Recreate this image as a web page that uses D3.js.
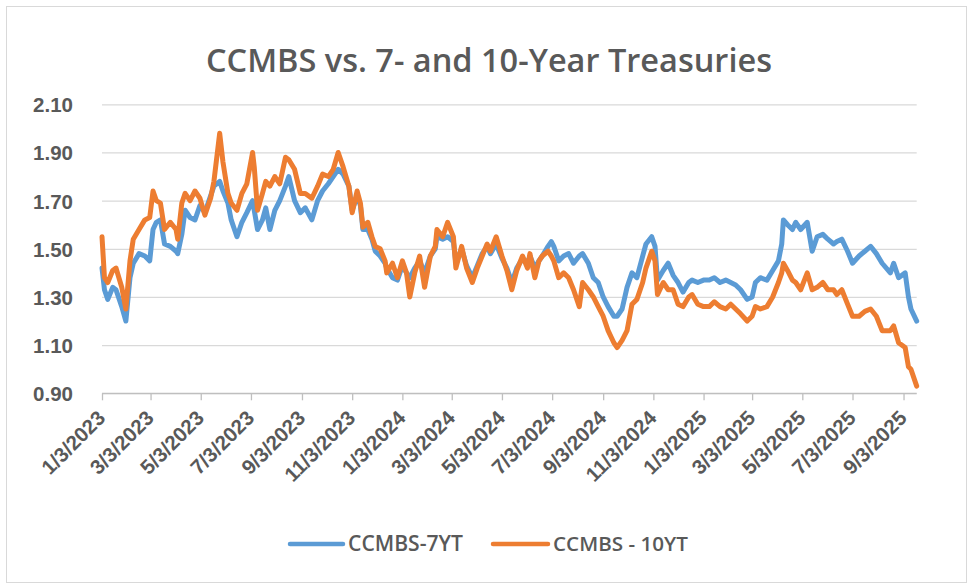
<!DOCTYPE html>
<html>
<head>
<meta charset="utf-8">
<script src="https://cdn.jsdelivr.net/npm/d3@7"></script>
<style>
  html, body { margin: 0; padding: 0; background: #fff; }
  svg { display: block; font-family: "Open Sans", "Noto Sans", sans-serif; }
  .lbl { fill: #595959; font-weight: 600; }
</style>
</head>
<body>
<svg id="chart" width="974" height="588"></svg>
<script>
// CCMBS spreads vs 7yr and 10yr Treasuries

const seriesNames = ['CCMBS-7YT', 'CCMBS - 10YT'];
const yTicks = [0.90, 1.10, 1.30, 1.50, 1.70, 1.90, 2.10];
const xTickDates = ['2023-01-03', '2023-03-03', '2023-05-03', '2023-07-03', '2023-09-03', '2023-11-03',
  '2024-01-03', '2024-03-03', '2024-05-03', '2024-07-03', '2024-09-03', '2024-11-03',
  '2025-01-03', '2025-03-03', '2025-05-03', '2025-07-03', '2025-09-03'];
const dateRange = ['2023-01-03', '2025-09-19'];

const dates = [
  '2023-01-03', '2023-01-06', '2023-01-10', '2023-01-16', '2023-01-20', '2023-01-27', '2023-02-01', '2023-02-06',
  '2023-02-10', '2023-02-17', '2023-02-24', '2023-03-02', '2023-03-06', '2023-03-10', '2023-03-15', '2023-03-20',
  '2023-03-27', '2023-04-03', '2023-04-05', '2023-04-10', '2023-04-14', '2023-04-20', '2023-04-26', '2023-05-02',
  '2023-05-08', '2023-05-15', '2023-05-19', '2023-05-26', '2023-05-30', '2023-06-05', '2023-06-09', '2023-06-16',
  '2023-06-22', '2023-06-28', '2023-07-05', '2023-07-07', '2023-07-11', '2023-07-17', '2023-07-21', '2023-07-26',
  '2023-08-01', '2023-08-07', '2023-08-14', '2023-08-18', '2023-08-25', '2023-09-01', '2023-09-07', '2023-09-15',
  '2023-09-22', '2023-09-28', '2023-10-05', '2023-10-11', '2023-10-17', '2023-10-23', '2023-10-30', '2023-11-03',
  '2023-11-09', '2023-11-13', '2023-11-16', '2023-11-22', '2023-11-27', '2023-12-01', '2023-12-07', '2023-12-13',
  '2023-12-15', '2023-12-22', '2023-12-28', '2024-01-03', '2024-01-08', '2024-01-12', '2024-01-18', '2024-01-24',
  '2024-01-30', '2024-02-06', '2024-02-12', '2024-02-14', '2024-02-21', '2024-02-27', '2024-03-05', '2024-03-08',
  '2024-03-15', '2024-03-21', '2024-03-28', '2024-04-03', '2024-04-09', '2024-04-15', '2024-04-19', '2024-04-26',
  '2024-05-03', '2024-05-09', '2024-05-15', '2024-05-21', '2024-05-28', '2024-06-03', '2024-06-06', '2024-06-12',
  '2024-06-17', '2024-06-21', '2024-06-28', '2024-07-02', '2024-07-05', '2024-07-11', '2024-07-17', '2024-07-23',
  '2024-07-29', '2024-08-05', '2024-08-09', '2024-08-16', '2024-08-22', '2024-08-28', '2024-09-03', '2024-09-09',
  '2024-09-16', '2024-09-20', '2024-09-26', '2024-10-02', '2024-10-08', '2024-10-14', '2024-10-21', '2024-10-25',
  '2024-11-01', '2024-11-05', '2024-11-08', '2024-11-15', '2024-11-21', '2024-11-27', '2024-12-03', '2024-12-09',
  '2024-12-16', '2024-12-20', '2024-12-27', '2025-01-03', '2025-01-10', '2025-01-16', '2025-01-23', '2025-01-30',
  '2025-02-05', '2025-02-11', '2025-02-17', '2025-02-25', '2025-03-03', '2025-03-07', '2025-03-13', '2025-03-21',
  '2025-03-28', '2025-04-04', '2025-04-08', '2025-04-10', '2025-04-15', '2025-04-21', '2025-04-25', '2025-05-01',
  '2025-05-09', '2025-05-15', '2025-05-21', '2025-05-28', '2025-06-03', '2025-06-10', '2025-06-14', '2025-06-20',
  '2025-06-27', '2025-07-03', '2025-07-11', '2025-07-18', '2025-07-25', '2025-08-01', '2025-08-08', '2025-08-18',
  '2025-08-22', '2025-08-28', '2025-09-05', '2025-09-09', '2025-09-12', '2025-09-19'
];

const ccmbs7 = [
  1.42, 1.33, 1.29, 1.34, 1.33, 1.26, 1.20, 1.38,
  1.44, 1.48, 1.47, 1.45, 1.58, 1.61, 1.62, 1.52,
  1.51, 1.49, 1.48, 1.56, 1.66, 1.63, 1.62, 1.68,
  1.65, 1.72, 1.76, 1.78, 1.74, 1.69, 1.62, 1.55,
  1.61, 1.65, 1.70, 1.66, 1.58, 1.62, 1.67, 1.58,
  1.66, 1.70, 1.76, 1.80, 1.70, 1.65, 1.67, 1.62,
  1.70, 1.74, 1.77, 1.80, 1.83, 1.81, 1.76, 1.66,
  1.72, 1.68, 1.58, 1.58, 1.54, 1.49, 1.47, 1.44,
  1.42, 1.38, 1.37, 1.43, 1.40, 1.38, 1.42, 1.45,
  1.40, 1.47, 1.50, 1.55, 1.54, 1.55, 1.53, 1.44,
  1.50, 1.43, 1.38, 1.43, 1.48, 1.51, 1.48, 1.52,
  1.46, 1.42, 1.36, 1.42, 1.46, 1.44, 1.47, 1.42,
  1.45, 1.47, 1.51, 1.53, 1.51, 1.45, 1.47, 1.48,
  1.44, 1.47, 1.48, 1.44, 1.38, 1.36, 1.30, 1.26,
  1.22, 1.22, 1.25, 1.34, 1.40, 1.38, 1.47, 1.52,
  1.55, 1.51, 1.37, 1.41, 1.44, 1.39, 1.36, 1.32,
  1.36, 1.37, 1.36, 1.37, 1.37, 1.38, 1.36, 1.37,
  1.36, 1.35, 1.33, 1.29, 1.30, 1.36, 1.38, 1.37,
  1.41, 1.45, 1.52, 1.62, 1.60, 1.58, 1.61, 1.58,
  1.61, 1.49, 1.55, 1.56, 1.54, 1.52, 1.53, 1.54,
  1.49, 1.44, 1.47, 1.49, 1.51, 1.48, 1.44, 1.40,
  1.44, 1.38, 1.40, 1.30, 1.25, 1.20
];

const ccmbs10 = [
  1.55, 1.38, 1.36, 1.41, 1.42, 1.34, 1.25, 1.45,
  1.54, 1.58, 1.62, 1.63, 1.74, 1.70, 1.69, 1.58,
  1.61, 1.58, 1.54, 1.69, 1.73, 1.70, 1.74, 1.71,
  1.64, 1.71, 1.78, 1.98, 1.86, 1.73, 1.69, 1.66,
  1.73, 1.77, 1.90, 1.84, 1.66, 1.73, 1.78, 1.76,
  1.80, 1.77, 1.88, 1.87, 1.83, 1.73, 1.73, 1.71,
  1.76, 1.81, 1.80, 1.83, 1.90, 1.84, 1.76, 1.65,
  1.74, 1.69, 1.59, 1.61, 1.55, 1.51, 1.50, 1.45,
  1.40, 1.44, 1.38, 1.45, 1.40, 1.30, 1.40, 1.47,
  1.34, 1.47, 1.51, 1.58, 1.55, 1.61, 1.55, 1.42,
  1.51, 1.42, 1.36, 1.42, 1.47, 1.52, 1.49, 1.55,
  1.47, 1.41, 1.33, 1.41, 1.47, 1.42, 1.48, 1.38,
  1.45, 1.47, 1.49, 1.47, 1.45, 1.38, 1.40, 1.38,
  1.33, 1.26, 1.36, 1.33, 1.30, 1.26, 1.22, 1.16,
  1.11, 1.09, 1.12, 1.16, 1.27, 1.29, 1.36, 1.42,
  1.49, 1.45, 1.31, 1.36, 1.33, 1.33, 1.27, 1.26,
  1.30, 1.31, 1.27, 1.26, 1.26, 1.28, 1.26, 1.25,
  1.27, 1.25, 1.23, 1.20, 1.22, 1.26, 1.25, 1.26,
  1.30, 1.36, 1.40, 1.44, 1.41, 1.37, 1.36, 1.33,
  1.40, 1.33, 1.34, 1.36, 1.33, 1.33, 1.31, 1.33,
  1.27, 1.22, 1.22, 1.24, 1.25, 1.22, 1.16, 1.16,
  1.18, 1.11, 1.09, 1.01, 1.00, 0.93
];

const colors = ['#5B9BD5', '#ED7D31'];

const parseDate = d3.timeParse('%Y-%m-%d');
const fmtDate = d => `${d.getMonth() + 1}/${d.getDate()}/${d.getFullYear()}`;

const svg = d3.select('#chart');
const plot = { left: 102, right: 916.7, top: 104.3, bottom: 393.3 };

// outer chart border
svg.append('rect')
  .attr('x', 6.5).attr('y', 6.5).attr('width', 960).attr('height', 576)
  .attr('fill', '#fff').attr('stroke', '#d9d9d9').attr('stroke-width', 1);

const x = d3.scaleTime().domain(dateRange.map(parseDate)).range([plot.left, plot.right]);
const y = d3.scaleLinear().domain([0.9, 2.1]).range([plot.bottom, plot.top]);

// shrink or grow a text until it spans the width measured on the reference
function fitWidth(sel, target) {
  sel.each(function () {
    const node = this;
    const fs = parseFloat(node.getAttribute('font-size'));
    const w = node.getComputedTextLength();
    if (w > 0) node.setAttribute('font-size', (fs * target / w).toFixed(2));
  });
}

// horizontal grid + y labels
const yAxis = d3.axisLeft(y).tickValues(yTicks).tickSize(-(plot.right - plot.left)).tickFormat(d3.format('.2f'));
const gy = svg.append('g').attr('transform', `translate(${plot.left},0)`).call(yAxis);
gy.select('.domain').remove();
gy.selectAll('.tick line').attr('stroke', '#d9d9d9').attr('stroke-width', 1.3);
gy.selectAll('.tick text')
  .attr('class', 'lbl').attr('x', -29).attr('dy', '0.36em')
  .attr('font-size', 20.5).style('font-family', null);

// bottom axis with small ticks and rotated date labels
const xAxis = d3.axisBottom(x).tickValues(xTickDates.map(parseDate)).tickSize(7).tickFormat(fmtDate);
const gx = svg.append('g').attr('transform', `translate(0,${plot.bottom})`).call(xAxis);
gx.select('.domain').attr('stroke', '#bfbfbf').attr('stroke-width', 1.3)
  .attr('d', `M${plot.left},0H${plot.right}`);
gx.selectAll('.tick line').attr('stroke', '#bfbfbf').attr('stroke-width', 1.3);
gx.selectAll('.tick text')
  .attr('class', 'lbl').attr('font-size', 20.5).style('font-family', null)
  .attr('text-anchor', 'end').attr('x', 0).attr('y', 0).attr('dy', null)
  .attr('transform', 'translate(4,26) rotate(-45)');

// lines: 7yr first, 10yr drawn on top
const rows = dates.map((d, i) => ({ date: parseDate(d), v: [ccmbs7[i], ccmbs10[i]] }));
const line = k => d3.line().x(d => x(d.date)).y(d => y(d.v[k]));

[0, 1].forEach(k => {
  svg.append('path')
    .datum(rows)
    .attr('fill', 'none')
    .attr('stroke', colors[k])
    .attr('stroke-width', 5)
    .attr('stroke-linejoin', 'round')
    .attr('stroke-linecap', 'round')
    .attr('d', line(k));
});

// title
const title = svg.append('text')
  .attr('class', 'lbl')
  .attr('x', 489).attr('y', 72)
  .attr('text-anchor', 'middle')
  .attr('font-size', 30)
  .text('CCMBS vs. 7- and 10-Year Treasuries');
fitWidth(title, 566);

// legend
const legendItems = [
  { name: seriesNames[0], color: colors[0], x0: 290, x1: 343, tx: 348, tw: 115 },
  { name: seriesNames[1], color: colors[1], x0: 493, x1: 548, tx: 553, tw: 135 }
];
const lg = svg.append('g');
legendItems.forEach(it => {
  lg.append('line')
    .attr('x1', it.x0).attr('x2', it.x1).attr('y1', 544).attr('y2', 544)
    .attr('stroke', it.color).attr('stroke-width', 4.5).attr('stroke-linecap', 'round');
  const t = lg.append('text')
    .attr('class', 'lbl')
    .attr('x', it.tx).attr('y', 551)
    .attr('font-size', 21)
    .text(it.name);
  fitWidth(t, it.tw);
});
</script>
</body>
</html>
